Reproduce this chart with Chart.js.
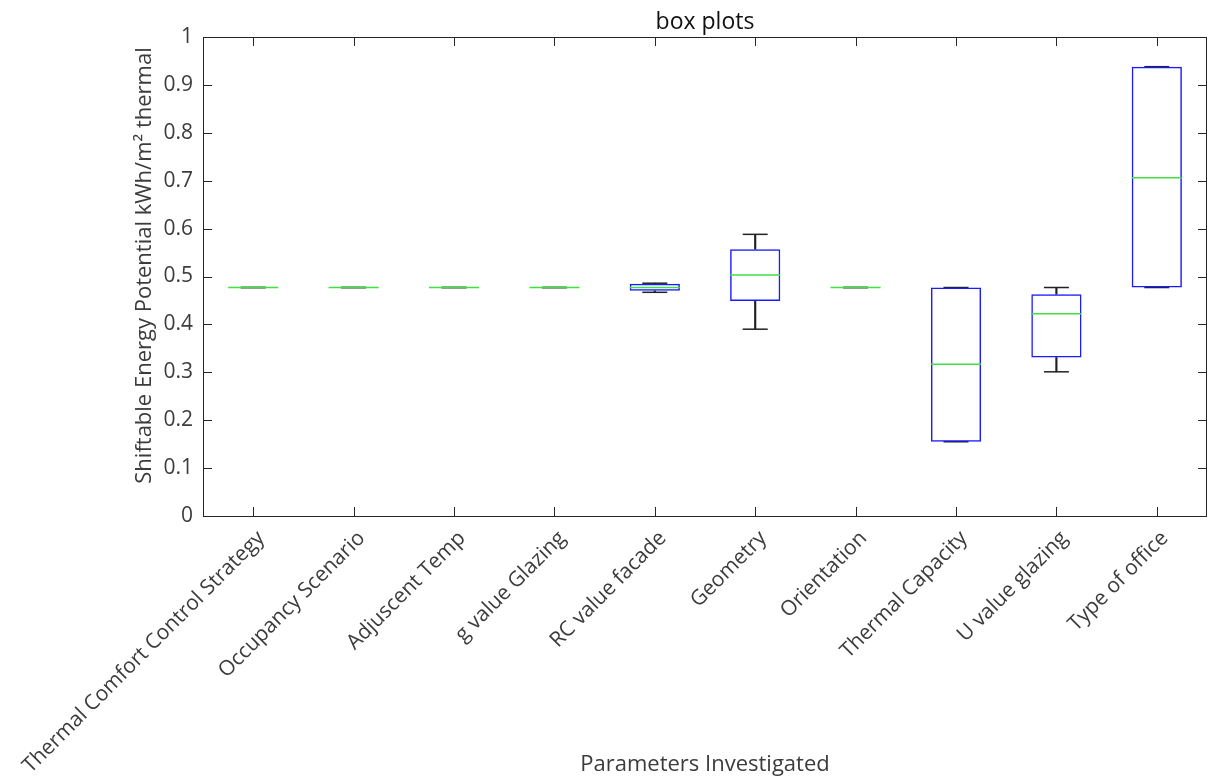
<!DOCTYPE html>
<html>
<head>
<meta charset="utf-8">
<script src="https://cdn.jsdelivr.net/npm/chart.js@4.4.0/dist/chart.umd.min.js"></script>
<style>
  html, body { margin: 0; padding: 0; background: #ffffff; }
  #wrap { width: 1208px; height: 778px; position: relative; }
</style>
</head>
<body>
<div id="wrap"><canvas id="c" width="1208" height="778"></canvas></div>
<script>
const categories = [
  'Thermal Comfort Control Strategy', 'Occupancy Scenario', 'Adjuscent Temp',
  'g value Glazing', 'RC value facade', 'Geometry', 'Orientation',
  'Thermal Capacity', 'U value glazing', 'Type of office'
];
const q1Values      = [0.477, 0.477, 0.477, 0.477, 0.470, 0.449, 0.477, 0.155, 0.331, 0.477];
const q3Values      = [0.477, 0.477, 0.477, 0.477, 0.485, 0.557, 0.477, 0.477, 0.463, 0.938];
const medianValues  = [0.477, 0.477, 0.477, 0.477, 0.477, 0.503, 0.477, 0.317, 0.422, 0.706];
const whiskerLow    = [0.477, 0.477, 0.477, 0.477, 0.467, 0.390, 0.477, 0.155, 0.301, 0.477];
const whiskerHigh   = [0.477, 0.477, 0.477, 0.477, 0.486, 0.588, 0.477, 0.477, 0.477, 0.938];
const yTickLabels   = ['0', '0.1', '0.2', '0.3', '0.4', '0.5', '0.6', '0.7', '0.8', '0.9', '1'];

const TEXT = '#3c3c3c';
const AXIS = '#262626';
const FONT = "'Open Sans', 'Noto Sans', sans-serif";

const framePlugin = {
  id: 'matlabFrame',
  afterDatasetsDraw(chart) {
    const { ctx, chartArea: a, scales: { x, y } } = chart;
    const L = 9;
    ctx.save();
    ctx.strokeStyle = AXIS;
    ctx.lineWidth = 1;
    ctx.beginPath();
    ctx.rect(Math.round(a.left) + 0.5, Math.round(a.top) + 0.5,
             Math.round(a.right - a.left) - 1, Math.round(a.bottom - a.top));
    x.ticks.forEach((t, i) => {
      const px = Math.round(x.getPixelForTick(i)) + 0.5;
      ctx.moveTo(px, a.bottom); ctx.lineTo(px, a.bottom - L);
      ctx.moveTo(px, a.top); ctx.lineTo(px, a.top + L);
    });
    y.ticks.forEach((t, i) => {
      const py = Math.round(y.getPixelForTick(i)) + 0.5;
      ctx.moveTo(a.left, py); ctx.lineTo(a.left + L, py);
      ctx.moveTo(a.right, py); ctx.lineTo(a.right - L, py);
    });
    ctx.stroke();
    ctx.restore();
  }
};

new Chart(document.getElementById('c'), {
  data: {
    labels: categories,
    datasets: [
      {
        type: 'line', label: 'median', data: medianValues, showLine: false,
        pointStyle: 'line', pointRadius: 25, pointHoverRadius: 25,
        pointBorderColor: '#3fe03f', pointBorderWidth: 1.5, order: 0
      },
      {
        type: 'bar', label: 'box', data: categories.map((_, i) => [q1Values[i], q3Values[i]]),
        backgroundColor: 'rgba(0,0,0,0)', borderColor: '#1a1aff', borderWidth: 1.5,
        borderSkipped: false, barPercentage: 0.5, categoryPercentage: 1, grouped: false, order: 1
      },
      {
        type: 'line', label: 'capLow', data: whiskerLow, showLine: false,
        pointStyle: 'line', pointRadius: 12.5, pointHoverRadius: 12.5,
        pointBorderColor: '#222222', pointBorderWidth: 1.5, order: 2
      },
      {
        type: 'line', label: 'capHigh', data: whiskerHigh, showLine: false,
        pointStyle: 'line', pointRadius: 12.5, pointHoverRadius: 12.5,
        pointBorderColor: '#222222', pointBorderWidth: 1.5, order: 2
      },
      {
        type: 'bar', label: 'whiskerLow', data: categories.map((_, i) => [whiskerLow[i], q1Values[i]]),
        backgroundColor: '#222222', borderWidth: 0, barThickness: 1.5, grouped: false, order: 3
      },
      {
        type: 'bar', label: 'whiskerHigh', data: categories.map((_, i) => [q3Values[i], whiskerHigh[i]]),
        backgroundColor: '#222222', borderWidth: 0, barThickness: 1.5, grouped: false, order: 3
      }
    ]
  },
  options: {
    responsive: false,
    animation: false,
    layout: { autoPadding: false, padding: { left: 0, right: 1, top: 0, bottom: 0 } },
    plugins: {
      legend: { display: false },
      tooltip: { enabled: false },
      title: {
        display: true, text: 'box plots', color: '#111', fullSize: false,
        font: { family: FONT, size: 23, weight: 'normal' },
        padding: { top: 8.2, bottom: 1.2 }
      }
    },
    scales: {
      x: {
        type: 'category', offset: true,
        grid: { display: false, drawTicks: false },
        border: { display: false },
        ticks: {
          autoSkip: false, minRotation: 45, maxRotation: 45, padding: 10, labelOffset: 8,
          color: TEXT, font: { family: FONT, size: 21 }
        },
        title: {
          display: true, text: 'Parameters Investigated', color: TEXT,
          font: { family: FONT, size: 22 }, padding: { top: 0, bottom: 0 }
        },
        afterFit(scale) {
          scale.height = 262;
          scale.paddingLeft = 0;
          scale.paddingRight = 0;
        }
      },
      y: {
        type: 'linear', min: 0, max: 1,
        grid: { display: false, drawTicks: false },
        border: { display: false },
        ticks: {
          stepSize: 0.1, padding: 10, color: TEXT, font: { family: FONT, size: 21 },
          callback: (v, i) => yTickLabels[i]
        },
        title: {
          display: true, text: '\u2003Shiftable Energy Potential kWh/m\u00B2 thermal', color: TEXT,
          font: { family: FONT, size: 22 }, padding: { top: 132, bottom: 0 }
        },
        afterFit(scale) {
          scale.width = 203;
          scale.paddingTop = 0;
          scale.paddingBottom = 0;
        }
      }
    }
  },
  plugins: [framePlugin]
});
</script>
</body>
</html>
